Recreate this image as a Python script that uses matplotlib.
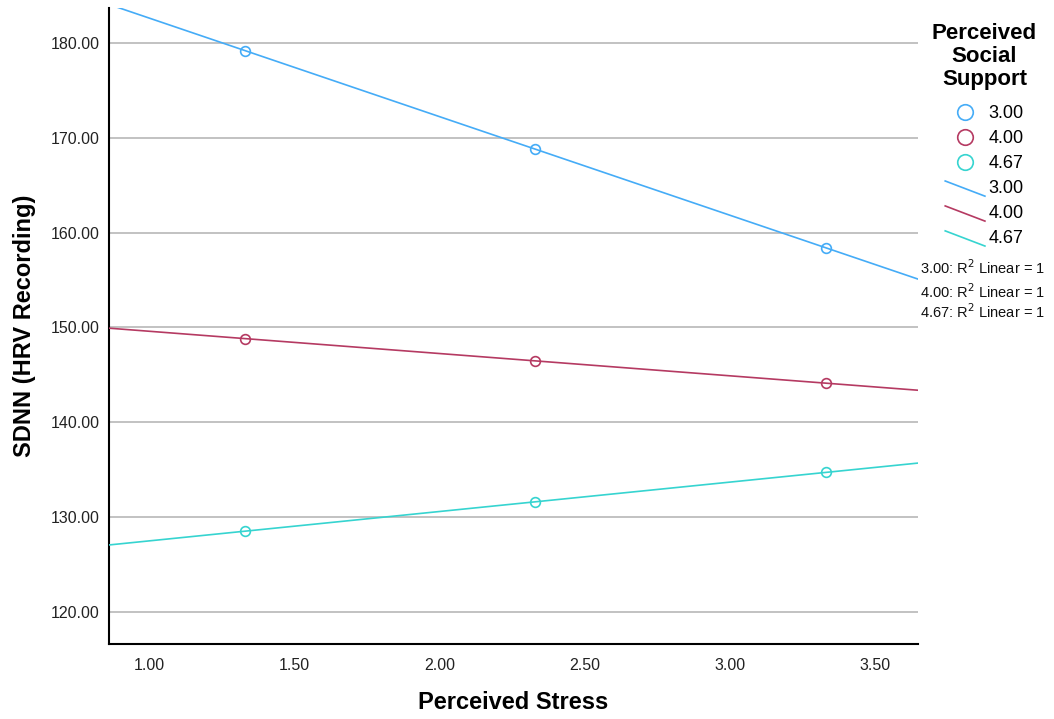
import numpy as np
import matplotlib
matplotlib.use("Agg")
from matplotlib import pyplot as plt
from matplotlib.lines import Line2D
from matplotlib.legend_handler import HandlerLine2D

plt.rcParams['font.family'] = ['Liberation Sans', 'DejaVu Sans']

# Perceived stress (x) and SDNN (y) for each level of social support
stress = np.array([1.33, 2.33, 3.33])
support_levels = ['3.00', '4.00', '4.67']
sdnn_300 = np.array([179.2, 168.8, 158.4])
sdnn_400 = np.array([148.8, 146.5, 144.1])
sdnn_467 = np.array([128.5, 131.6, 134.7])
colors = ['#45acf7', '#b53a62', '#36d4d0']

y_ticks = [120, 130, 140, 150, 160, 170, 180]
x_ticks = [1.0, 1.5, 2.0, 2.5, 3.0, 3.5]


class SlantHandler(HandlerLine2D):
    # draws the fit line legend key as a short diagonal
    def create_artists(self, legend, orig_handle, xdescent, ydescent,
                       width, height, fontsize, trans):
        ln = Line2D([-xdescent, width - xdescent],
                    [height * 0.95 - ydescent, -ydescent - height * 0.25],
                    color=orig_handle.get_color(), lw=orig_handle.get_linewidth())
        ln.set_transform(trans)
        return [ln]


fig = plt.figure(figsize=(10.54, 7.19), dpi=100)
ax = fig.add_axes([0.1034, 0.1043, 0.7676, 0.8847])

xlim = (0.862, 3.648)
ylim = (116.6, 183.7)
ax.set_xlim(*xlim)
ax.set_ylim(*ylim)

marker_handles = []
line_handles = []
xx = np.array(xlim)
for lvl, ys, c in zip(support_levels, [sdnn_300, sdnn_400, sdnn_467], colors):
    # fit line (R2 = 1) spanning the whole axis
    slope, icpt = np.polyfit(stress, ys, 1)
    ln, = ax.plot(xx, slope * xx + icpt, color=c, lw=1.2, zorder=3)
    pts, = ax.plot(stress, ys, ls='none', marker='o', ms=7, mfc='none',
                   mec=c, mew=1.2, zorder=4)
    marker_handles.append(pts)
    line_handles.append(ln)

ax.set_yticks(y_ticks)
ax.set_yticklabels([f'{v:.2f}' for v in y_ticks])
ax.set_xticks(x_ticks)
ax.set_xticklabels([f'{v:.2f}' for v in x_ticks])
ax.tick_params(length=0, labelsize=11.5, colors='#222222', pad=7)
ax.tick_params(axis='x', pad=10)
ax.grid(axis='y', color='#bdbdbd', lw=1.3)
ax.set_axisbelow(True)
for s in ['top', 'right']:
    ax.spines[s].set_visible(False)
for s in ['left', 'bottom']:
    ax.spines[s].set_linewidth(1.5)
    ax.spines[s].set_color('black')

ax.set_xlabel('Perceived Stress', fontsize=17, fontweight='bold', labelpad=13)
ax.set_ylabel('SDNN (HRV Recording)', fontsize=17, fontweight='bold', labelpad=10)

handler_map = {h: SlantHandler() for h in line_handles}
leg = fig.legend(marker_handles + line_handles, support_levels + support_levels,
                 loc='upper center', bbox_to_anchor=(0.934, 0.991),
                 frameon=False, fontsize=13, markerscale=1.6,
                 handlelength=2.2, handletextpad=0.2, labelspacing=0.44,
                 title='Perceived\nSocial\nSupport',
                 title_fontproperties={'size': 16, 'weight': 'bold'},
                 handler_map=handler_map)
leg.get_title().set_multialignment('center')
leg.get_title().set_linespacing(1.13)
# extra gap between the legend title and its entries
leg._legend_box.sep = 11

r2_y = [0.628, 0.594, 0.567]
for lvl, yy in zip(support_levels, r2_y):
    fig.text(0.873, yy, f'{lvl}: R$^2$ Linear = 1', fontsize=10.5,
             va='center', ha='left', color='#111111')

fig.savefig('out.png', dpi=100)
